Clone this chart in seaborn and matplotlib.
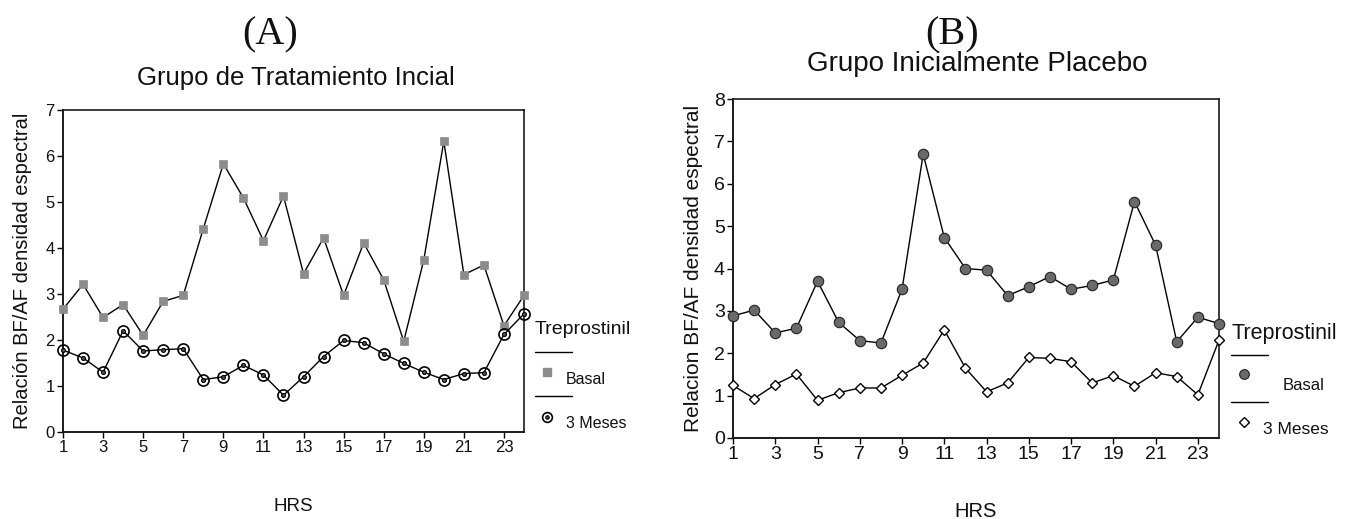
import matplotlib
matplotlib.use("Agg")
import matplotlib.pyplot as plt
from matplotlib.lines import Line2D
import seaborn as sns

# hours on the x axis
horas = list(range(1, 25))

# (A) Grupo de Tratamiento Incial
basal_a = [2.67, 3.21, 2.49, 2.77, 2.10, 2.84, 2.97, 4.42, 5.83, 5.09, 4.16, 5.13,
           3.44, 4.22, 2.97, 4.11, 3.31, 1.97, 3.74, 6.32, 3.42, 3.63, 2.31, 2.97]
meses3_a = [1.78, 1.61, 1.30, 2.20, 1.76, 1.79, 1.81, 1.14, 1.20, 1.45, 1.24, 0.80,
            1.20, 1.64, 1.99, 1.94, 1.70, 1.49, 1.30, 1.14, 1.27, 1.29, 2.12, 2.57]

# (B) Grupo Inicialmente Placebo
basal_b = [2.88, 3.02, 2.48, 2.59, 3.70, 2.73, 2.30, 2.24, 3.51, 6.70, 4.73, 4.00,
           3.96, 3.36, 3.57, 3.81, 3.51, 3.60, 3.73, 5.58, 4.55, 2.27, 2.85, 2.70]
meses3_b = [1.24, 0.93, 1.26, 1.51, 0.89, 1.07, 1.18, 1.18, 1.48, 1.77, 2.55, 1.65,
            1.09, 1.30, 1.90, 1.88, 1.80, 1.30, 1.47, 1.22, 1.54, 1.45, 1.02, 2.31]

xticks = list(range(1, 24, 2))

sns.set_style("white")
plt.rcParams["font.family"] = ["Liberation Sans", "DejaVu Sans"]

W, H = 1350, 519
fig = plt.figure(figsize=(13.5, 5.19), dpi=100)


def px(x, y):
    return x / W, 1 - y / H


def rect(l, t, r, b):
    return [l / W, 1 - b / H, (r - l) / W, (b - t) / H]


ax_a = fig.add_axes(rect(63, 110, 524, 432))
ax_b = fig.add_axes(rect(733, 99, 1219, 438))

# panel A
sns.lineplot(x=horas, y=basal_a, ax=ax_a, color="black", lw=1.0, marker="s",
             markersize=6, markerfacecolor="#8c8c8c", markeredgecolor="#8c8c8c",
             markeredgewidth=0.5, zorder=3)
sns.lineplot(x=horas, y=meses3_a, ax=ax_a, color="black", lw=1.0, marker="o",
             markersize=8, markerfacecolor="none", markeredgecolor="black",
             markeredgewidth=1.2, zorder=3)
sns.scatterplot(x=horas, y=meses3_a, ax=ax_a, marker="o", s=8, color="#555555",
                edgecolor="black", linewidth=0.8, zorder=4)

# panel B
sns.lineplot(x=horas, y=basal_b, ax=ax_b, color="black", lw=1.0, marker="o",
             markersize=7.5, markerfacecolor="#6a6a6a", markeredgecolor="#222222",
             markeredgewidth=0.8, zorder=3)
sns.lineplot(x=horas, y=meses3_b, ax=ax_b, color="black", lw=1.0, marker="D",
             markersize=5.5, markerfacecolor="white", markeredgecolor="black",
             markeredgewidth=1.0, zorder=3)

for ax, ymax, tfs in [(ax_a, 7, 12), (ax_b, 8, 14)]:
    ax.set_xlim(1, 24)
    ax.set_ylim(0, ymax)
    ax.set_xticks(xticks)
    ax.set_yticks(range(0, ymax + 1))
    ax.tick_params(axis="both", direction="out", length=4, width=1,
                   labelsize=tfs, pad=2, colors="black",
                   bottom=True, left=True, top=False, right=False)
    ax.tick_params(axis="both", labelcolor="#111111")
    for s in ax.spines.values():
        s.set_visible(True)
        s.set_linewidth(1.4)
        s.set_color("#1a1a1a")
    for side in ("top", "right"):
        ax.spines[side].set_linewidth(1.2)
    for ln in ax.lines:
        ln.set_clip_on(False)
    for c in ax.collections:
        c.set_clip_on(False)

ax_a.set_xlabel("HRS", fontsize=13.5, color="#111111")
ax_a.xaxis.set_label_coords(0.5, -0.205)
ax_a.set_ylabel("Relación BF/AF densidad espectral", fontsize=14.5, color="#111111")
ax_a.yaxis.set_label_coords(-0.067, 0.5)

ax_b.set_xlabel("HRS", fontsize=14.5, color="#111111")
ax_b.xaxis.set_label_coords(0.5, -0.19)
ax_b.set_ylabel("Relacion BF/AF densidad espectral", fontsize=15, color="#111111")
ax_b.yaxis.set_label_coords(-0.062, 0.5)

# titles
fig.text(*px(270, 35), "(A)", fontsize=29, family=["Liberation Serif", "DejaVu Serif"],
         ha="center", va="center", color="#111111")
fig.text(*px(296, 78), "Grupo de Tratamiento Incial", fontsize=18.5,
         ha="center", va="center", color="#111111")
fig.text(*px(952, 35), "(B)", fontsize=29, family=["Liberation Serif", "DejaVu Serif"],
         ha="center", va="center", color="#111111")
fig.text(*px(977, 64), "Grupo Inicialmente Placebo", fontsize=20,
         ha="center", va="center", color="#111111")

# legend A
fig.text(*px(535, 330), "Treprostinil", fontsize=14, ha="left", va="center", color="#111111")
fig.add_artist(Line2D([535 / W, 572 / W], [1 - 352 / H] * 2, color="black", lw=1.0))
fig.add_artist(Line2D([547 / W], [1 - 372 / H], marker="s", markersize=6, ls="none",
                      markerfacecolor="#8c8c8c", markeredgecolor="#8c8c8c"))
fig.text(*px(566, 379), "Basal", fontsize=11.5, ha="left", va="center", color="#111111")
fig.add_artist(Line2D([535 / W, 572 / W], [1 - 396 / H] * 2, color="black", lw=1.0))
fig.add_artist(Line2D([547 / W], [1 - 417 / H], marker="o", markersize=7, ls="none",
                      markerfacecolor="none", markeredgecolor="black", markeredgewidth=1.2))
fig.add_artist(Line2D([547 / W], [1 - 417 / H], marker="o", markersize=2.5, ls="none",
                      markerfacecolor="#555555", markeredgecolor="black", markeredgewidth=0.8))
fig.text(*px(566, 423), "3 Meses", fontsize=11.5, ha="left", va="center", color="#111111")

# legend B
fig.text(*px(1231, 333), "Treprostinil", fontsize=15.5, ha="left", va="center", color="#111111")
fig.add_artist(Line2D([1231 / W, 1268 / W], [1 - 355 / H] * 2, color="black", lw=1.0))
fig.add_artist(Line2D([1244 / W], [1 - 374 / H], marker="o", markersize=7, ls="none",
                      markerfacecolor="#6a6a6a", markeredgecolor="#222222", markeredgewidth=0.8))
fig.text(*px(1283, 385), "Basal", fontsize=12, ha="left", va="center", color="#111111")
fig.add_artist(Line2D([1231 / W, 1268 / W], [1 - 402 / H] * 2, color="black", lw=1.0))
fig.add_artist(Line2D([1244 / W], [1 - 422 / H], marker="D", markersize=5, ls="none",
                      markerfacecolor="white", markeredgecolor="black", markeredgewidth=1.0))
fig.text(*px(1263, 430), "3 Meses", fontsize=12.5, ha="left", va="center", color="#111111")

fig.savefig("out.png", dpi=100, facecolor="white")
